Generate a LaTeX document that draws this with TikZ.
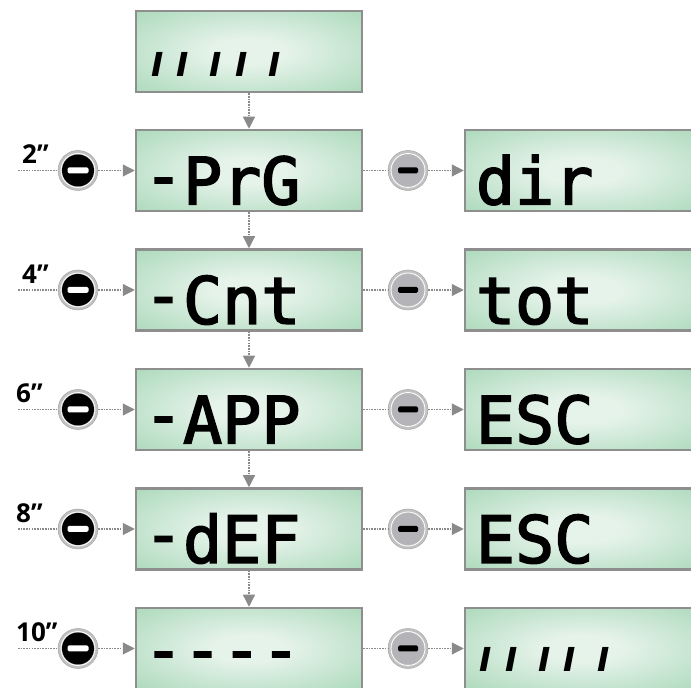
\documentclass[tikz,border=0pt]{standalone}
\usepackage{fontspec}
\setmainfont{Open Sans}
\newfontfamily\lcdfont{DejaVu Sans Mono}[FakeBold=2.5]
\newfontfamily\barfont{DejaVu Sans}
\usetikzlibrary{arrows.meta}
\usetikzlibrary{calc}
\usetikzlibrary{positioning}

\definecolor{lcdlight}{HTML}{E6F3EA}
\definecolor{lcddark}{HTML}{A4D6B5}
\definecolor{framegray}{HTML}{8E8E8E}
\definecolor{ringgray}{HTML}{C2C2C2}
\definecolor{keygray}{HTML}{B4B4B8}
\definecolor{linegray}{HTML}{8A8A8A}
\pgfdeclareradialshading{lcdglow}{\pgfpoint{0bp}{0bp}}{color(0bp)=(lcdlight); color(8bp)=(lcdlight); color(40bp)=(lcddark); color(50bp)=(lcddark)}

\newcommand{\segdash}{\raisebox{6pt}{-}}

\begin{document}
\begin{tikzpicture}[x=1pt, y=1pt,
    lcd/.style={draw=framegray, line width=2.5pt, shading=lcdglow, minimum width=226pt, minimum height=81pt, inner sep=0},
    lcdwide/.style={lcd, minimum width=236pt},
    segtext/.style={anchor=base west, inner sep=0, font=\lcdfont\fontsize{65}{65}\selectfont},
    bars/.style={anchor=base west, inner sep=0, font=\barfont\bfseries\itshape\fontsize{33}{33}\selectfont},
    secs/.style={anchor=base west, inner sep=0, font=\bfseries\fontsize{26}{26}\selectfont},
    keyblack/.style={circle, minimum size=40pt, inner sep=0, fill=ringgray, draw=framegray!80, line width=0.5pt,
        path picture={
            \draw[white, line width=0.8pt] (path picture bounding box.center) circle (17pt);
            \fill[black] (path picture bounding box.center) circle (16pt);
            \fill[white, rounded corners=1.5pt] ($(path picture bounding box.center)+(-10.5,-3)$) rectangle +(21,6);
        }},
    keygrey/.style={circle, minimum size=40pt, inner sep=0, fill=ringgray, draw=framegray!80, line width=0.5pt,
        path picture={
            \draw[white, line width=0.8pt] (path picture bounding box.center) circle (17pt);
            \fill[keygray] (path picture bounding box.center) circle (16pt);
            \fill[black, rounded corners=1.5pt] ($(path picture bounding box.center)+(-10,-3)$) rectangle +(20,6);
        }},
    dotline/.style={draw=linegray, line width=1.2pt, dash pattern=on 1.6pt off 1.1pt},
    flow/.style={dotline, -{Triangle[length=12pt, width=12pt]}}]

    \useasboundingbox (0,0) rectangle (691,688);
    \clip (0,0) rectangle (691,688);

    \node[lcd] (idle) at (249,636.5) {};
    \node[lcd] (prg) at (249,517.5) {};
    \node[lcd] (cnt) at (249,398) {};
    \node[lcd] (app) at (249,278.5) {};
    \node[lcd] (def) at (249,159) {};
    \node[lcd] (blank) at (249,39.5) {};

    \node[lcdwide] (dir) at (583,517.5) {};
    \node[lcdwide] (tot) at (583,398) {};
    \node[lcdwide] (escapp) at (583,278.5) {};
    \node[lcdwide] (escdef) at (583,159) {};
    \node[lcdwide] (back) at (583,39.5) {};

    \node[bars] (idletxt) at ($(idle.center)+(-98,-25)$) {I\hspace{13pt}I\hspace{21pt}I\hspace{13pt}I\hspace{21pt}I};
    \node[segtext] (prgtxt) at ($(prg.south west)+(9,8)$) {\segdash PrG};
    \node[segtext] (cnttxt) at ($(cnt.south west)+(9,8)$) {\segdash Cnt};
    \node[segtext] (apptxt) at ($(app.south west)+(9,8)$) {\segdash APP};
    \node[segtext] (deftxt) at ($(def.south west)+(9,8)$) {\segdash dEF};
    \node[segtext] (blanktxt) at ($(blank.south west)+(9,12)$) {\segdash\segdash\segdash\segdash};

    \node[segtext] (dirtxt) at ($(dir.south west)+(12,8)$) {dir};
    \node[segtext] (tottxt) at ($(tot.south west)+(12,8)$) {tot};
    \node[segtext] (escapptxt) at ($(escapp.south west)+(12,8)$) {ESC};
    \node[segtext] (escdeftxt) at ($(escdef.south west)+(12,8)$) {ESC};
    \node[bars] (backtxt) at ($(back.west)+(16,-23)$) {I\hspace{13pt}I\hspace{21pt}I\hspace{13pt}I\hspace{21pt}I};

    \draw[flow] (idle) -- (prg);
    \draw[flow] (prg) -- (cnt);
    \draw[flow] (cnt) -- (app);
    \draw[flow] (app) -- (def);
    \draw[flow] (def) -- (blank);

    \node[secs] (t2) at (22,524) {2”};
    \node[secs] (t4) at (22,404.5) {4”};
    \node[secs] (t6) at (16,285) {6”};
    \node[secs] (t8) at (16,165.5) {8”};
    \node[secs] (t10) at (16,46) {10”};

    \coordinate (in2) at (18,517.5);
    \coordinate (in4) at (18,398);
    \coordinate (in6) at (18,278.5);
    \coordinate (in8) at (18,159);
    \coordinate (in10) at (18,39.5);

    \node[keyblack] (k2) at (78,517.5) {};
    \node[keyblack] (k4) at (78,398) {};
    \node[keyblack] (k6) at (78,278.5) {};
    \node[keyblack] (k8) at (78,159) {};
    \node[keyblack] (k10) at (78,39.5) {};

    \draw[dotline] (in2) -- (k2);
    \draw[dotline] (in4) -- (k4);
    \draw[dotline] (in6) -- (k6);
    \draw[dotline] (in8) -- (k8);
    \draw[dotline] (in10) -- (k10);
    \draw[flow] (k2) -- (prg);
    \draw[flow] (k4) -- (cnt);
    \draw[flow] (k6) -- (app);
    \draw[flow] (k8) -- (def);
    \draw[flow] (k10) -- (blank);

    \node[keygrey] (m2) at (408,517.5) {};
    \node[keygrey] (m4) at (408,398) {};
    \node[keygrey] (m6) at (408,278.5) {};
    \node[keygrey] (m8) at (408,159) {};
    \node[keygrey] (m10) at (408,39.5) {};

    \draw[dotline] (prg) -- (m2);
    \draw[dotline] (cnt) -- (m4);
    \draw[dotline] (app) -- (m6);
    \draw[dotline] (def) -- (m8);
    \draw[dotline] (blank) -- (m10);
    \draw[flow] (m2) -- (dir);
    \draw[flow] (m4) -- (tot);
    \draw[flow] (m6) -- (escapp);
    \draw[flow] (m8) -- (escdef);
    \draw[flow] (m10) -- (back);

\end{tikzpicture}
\end{document}
